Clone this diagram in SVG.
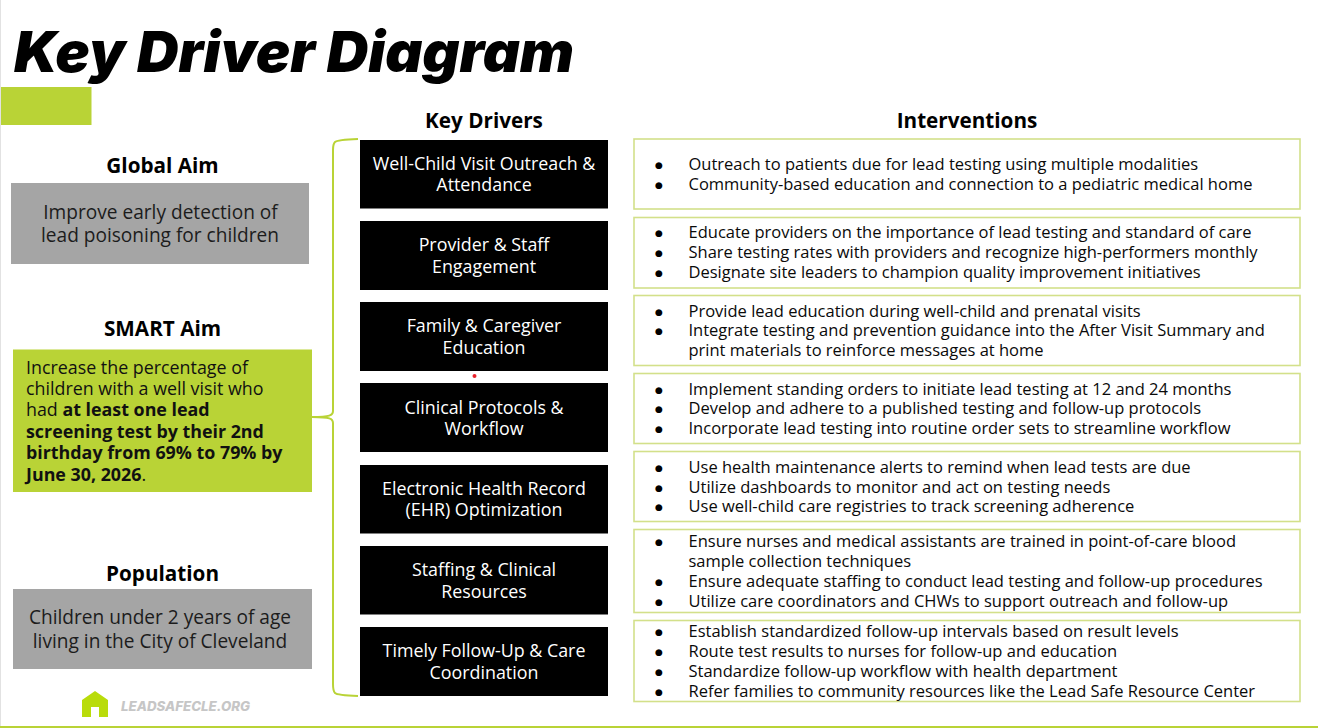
<svg xmlns="http://www.w3.org/2000/svg" width="1318" height="728" viewBox="0 0 1318 728">
<style>
text{font-family:"Open Sans","Noto Sans","Liberation Sans",sans-serif;fill:#000}
.h{font-size:20.700px;font-weight:700;text-anchor:middle}
.a{font-size:19.100px;text-anchor:middle;fill:#1c1c1c}
.s{font-size:17.850px;fill:#111}
.d{font-size:17.850px;fill:#fff;text-anchor:middle}
.i{font-size:16.500px;fill:#0a0a0a}
.b{font-size:9px;font-family:"DejaVu Sans",sans-serif;text-anchor:middle}
.box{fill:#fff;stroke:#d3e08a;stroke-width:1.600}
.blk{fill:#000}
.gry{fill:#a5a5a5}
.grn{fill:#b9d336}
.con{fill:none;stroke:#b9d336;stroke-width:2}
</style>
<rect width="1318" height="728" fill="#fff"/>
<rect x="0" y="0" width="1" height="728" fill="#e2e2e2"/>
<rect x="0" y="726" width="1318" height="2" class="grn"/>
<rect x="1" y="87" width="90.500" height="38" class="grn"/>
<text x="14" y="72" textLength="560" lengthAdjust="spacingAndGlyphs" style="font-family:Inter,'Liberation Sans',sans-serif;font-size:56px;font-weight:900;font-style:italic">Key Driver Diagram</text>
<g id="connectors"><path class="con" d="M358 139C345 139.500 337 140 335 142C333.500 143.500 333 145 333 150V411C333 415.500 330 416.800 312 417C330 417.200 333 418.500 333 423V684C333 690 333.500 691.500 335 693C337 695 345 695.500 358 696"/></g>
<g id="global-aim"><text class="h" x="162.500" y="173">Global Aim</text><rect class="gry" x="11" y="183" width="298" height="81"/><text class="a" x="160.500" y="219">Improve early detection of</text><text class="a" x="160" y="242">lead poisoning for children</text></g>
<g id="smart-aim"><text class="h" x="162.500" y="336">SMART Aim</text><rect class="grn" x="13" y="349.500" width="299" height="142.500"/>
<text class="s" x="26" y="374">Increase the percentage of</text><text class="s" x="26" y="395">children with a well visit who</text><text class="s" x="26" y="416">had <tspan font-weight="700">at least one lead</tspan></text><text class="s" x="26" y="438" font-weight="700">screening test by their 2nd</text><text class="s" x="26" y="459" font-weight="700">birthday from 69% to 79% by</text><text class="s" x="26" y="481"><tspan font-weight="700">June 30, 2026</tspan>.</text></g>
<g id="population"><text class="h" x="162.500" y="581">Population</text><rect class="gry" x="13" y="589" width="299" height="80"/><text class="a" x="160" y="624">Children under 2 years of age</text><text class="a" x="160" y="648">living in the City of Cleveland</text></g>
<g id="logo"><path d="M82 700L95 691L108 700V717H99V707H91V717H82Z" fill="#b9dc0a"/><text x="121" y="711" style="font-family:Inter,'Liberation Sans',sans-serif;font-size:13px;font-weight:800;font-style:italic;fill:#c6c6c6" textLength="129" lengthAdjust="spacingAndGlyphs">LEADSAFECLE.ORG</text></g>
<text class="h" x="484" y="127.500">Key Drivers</text>
<text class="h" x="967" y="127.500">Interventions</text>
<g id="driver-1"><rect class="blk" x="360" y="140" width="248" height="68.500"/><text class="d" x="484" y="170">Well-Child Visit Outreach &amp;</text><text class="d" x="484" y="191">Attendance</text></g>
<g id="driver-2"><rect class="blk" x="360" y="221" width="248" height="69"/><text class="d" x="484" y="251">Provider &amp; Staff</text><text class="d" x="484" y="273">Engagement</text></g>
<g id="driver-3"><rect class="blk" x="360" y="302" width="248" height="69"/><text class="d" x="484" y="332">Family &amp; Caregiver</text><text class="d" x="484" y="354">Education</text></g>
<circle cx="474.500" cy="376" r="2" fill="#e8202a"/>
<g id="driver-4"><rect class="blk" x="360" y="383" width="248" height="69"/><text class="d" x="484" y="414">Clinical Protocols &amp;</text><text class="d" x="484" y="435">Workflow</text></g>
<g id="driver-5"><rect class="blk" x="360" y="465" width="248" height="68.500"/><text class="d" x="484" y="495">Electronic Health Record</text><text class="d" x="484" y="516">(EHR) Optimization</text></g>
<g id="driver-6"><rect class="blk" x="360" y="546" width="248" height="68.500"/><text class="d" x="484" y="576">Staffing &amp; Clinical</text><text class="d" x="484" y="598">Resources</text></g>
<g id="driver-7"><rect class="blk" x="360" y="627" width="248" height="69"/><text class="d" x="484" y="657">Timely Follow-Up &amp; Care</text><text class="d" x="484" y="679">Coordination</text></g>
<g id="int-1"><rect class="box" x="634" y="139" width="666" height="70"/>
<text class="b" x="659" y="168">●</text><text class="i" x="688.500" y="170">Outreach to patients due for lead testing using multiple modalities</text>
<text class="b" x="659" y="188">●</text><text class="i" x="688.500" y="190">Community-based education and connection to a pediatric medical home</text></g>
<g id="int-2"><rect class="box" x="634" y="217.500" width="666" height="70.500"/>
<text class="b" x="659" y="236">●</text><text class="i" x="688.500" y="238">Educate providers on the importance of lead testing and standard of care</text>
<text class="b" x="659" y="256">●</text><text class="i" x="688.500" y="258">Share testing rates with providers and recognize high-performers monthly</text>
<text class="b" x="659" y="276">●</text><text class="i" x="688.500" y="278">Designate site leaders to champion quality improvement initiatives</text></g>
<g id="int-3"><rect class="box" x="634" y="295.500" width="666" height="70"/>
<text class="b" x="659" y="315">●</text><text class="i" x="688.500" y="317">Provide lead education during well-child and prenatal visits</text>
<text class="b" x="659" y="334">●</text><text class="i" x="688.500" y="336">Integrate testing and prevention guidance into the After Visit Summary and</text>
<text class="i" x="688.500" y="356">print materials to reinforce messages at home</text></g>
<g id="int-4"><rect class="box" x="634" y="373.500" width="666" height="70"/>
<text class="b" x="659" y="393">●</text><text class="i" x="688.500" y="395">Implement standing orders to initiate lead testing at 12 and 24 months</text>
<text class="b" x="659" y="412">●</text><text class="i" x="688.500" y="414">Develop and adhere to a published testing and follow-up protocols</text>
<text class="b" x="659" y="432">●</text><text class="i" x="688.500" y="434">Incorporate lead testing into routine order sets to streamline workflow</text></g>
<g id="int-5"><rect class="box" x="634" y="451.500" width="666" height="70"/>
<text class="b" x="659" y="471">●</text><text class="i" x="688.500" y="473">Use health maintenance alerts to remind when lead tests are due</text>
<text class="b" x="659" y="491">●</text><text class="i" x="688.500" y="493">Utilize dashboards to monitor and act on testing needs</text>
<text class="b" x="659" y="510">●</text><text class="i" x="688.500" y="512">Use well-child care registries to track screening adherence</text></g>
<g id="int-6"><rect class="box" x="634" y="529.500" width="666" height="83"/>
<text class="b" x="659" y="545">●</text><text class="i" x="688.500" y="547">Ensure nurses and medical assistants are trained in point-of-care blood</text>
<text class="i" x="688.500" y="567">sample collection techniques</text>
<text class="b" x="659" y="585">●</text><text class="i" x="688.500" y="587">Ensure adequate staffing to conduct lead testing and follow-up procedures</text>
<text class="b" x="659" y="605">●</text><text class="i" x="688.500" y="607">Utilize care coordinators and CHWs to support outreach and follow-up</text></g>
<g id="int-7"><rect class="box" x="634" y="620.500" width="666" height="81"/>
<text class="b" x="659" y="635">●</text><text class="i" x="688.500" y="637">Establish standardized follow-up intervals based on result levels</text>
<text class="b" x="659" y="655">●</text><text class="i" x="688.500" y="657">Route test results to nurses for follow-up and education</text>
<text class="b" x="659" y="675">●</text><text class="i" x="688.500" y="677">Standardize follow-up workflow with health department</text>
<text class="b" x="659" y="695">●</text><text class="i" x="688.500" y="697">Refer families to community resources like the Lead Safe Resource Center</text></g>
</svg>
